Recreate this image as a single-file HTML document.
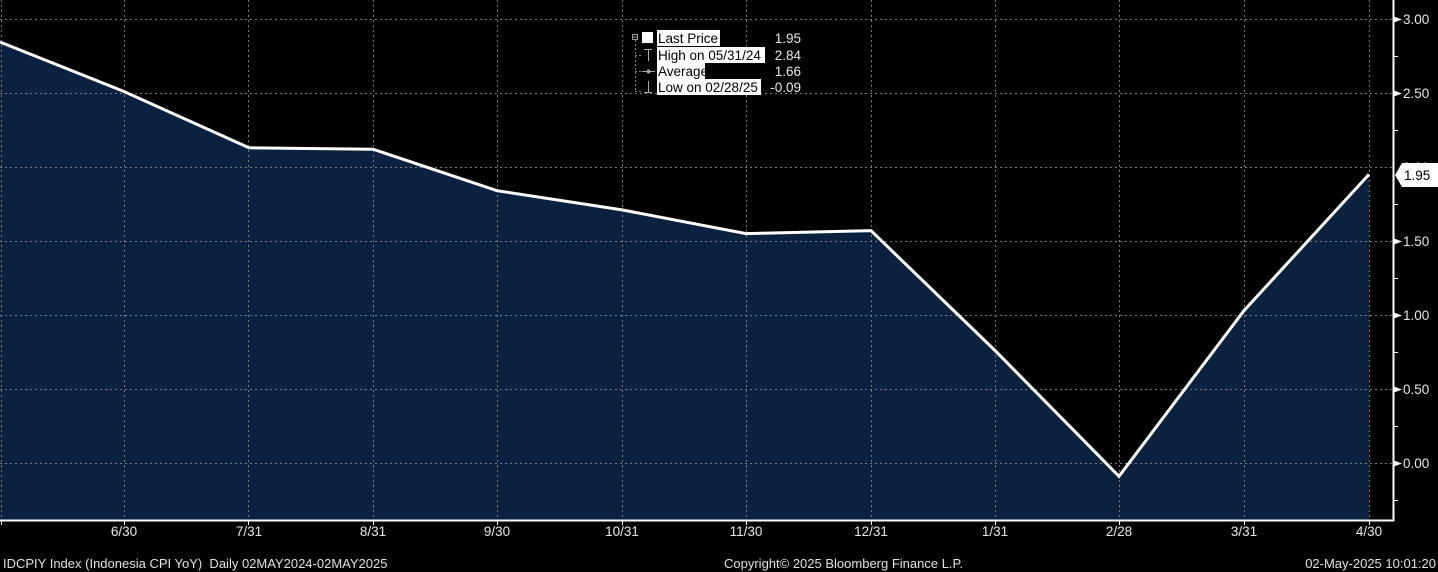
<!DOCTYPE html>
<html><head><meta charset="utf-8"><style>
html,body{margin:0;padding:0;background:#000;}
svg{display:block;}
text{font-family:"Liberation Sans",Tahoma,sans-serif;}
</style></head><body>
<svg width="1438" height="572" viewBox="0 0 1438 572" xmlns="http://www.w3.org/2000/svg">
<rect width="1438" height="572" fill="#000"/>
<!-- fill -->
<polygon fill="#0a2240" points="0,42 124,91.5 249,147.8 373,149.2 497,190.7 622,209.9 746,233.6 871,230.6 995,350.5 1119,476.3 1244,310.6 1369,174.4 1369,520 0,520"/>
<!-- grid -->
<g stroke="#7a7a7a" stroke-width="1" stroke-dasharray="2,3" fill="none">
<line x1="0" y1="19.5" x2="1393" y2="19.5"/>
<line x1="0" y1="93.5" x2="1393" y2="93.5"/>
<line x1="0" y1="167.5" x2="1393" y2="167.5"/>
<line x1="0" y1="241.5" x2="1393" y2="241.5"/>
<line x1="0" y1="315.5" x2="1393" y2="315.5"/>
<line x1="0" y1="389.5" x2="1393" y2="389.5"/>
<line x1="0" y1="463.5" x2="1393" y2="463.5"/>
<line x1="1.5" y1="0" x2="1.5" y2="520"/>
<line x1="124.5" y1="0" x2="124.5" y2="520"/>
<line x1="248.5" y1="0" x2="248.5" y2="520"/>
<line x1="373.5" y1="0" x2="373.5" y2="520"/>
<line x1="497.5" y1="0" x2="497.5" y2="520"/>
<line x1="622.5" y1="0" x2="622.5" y2="520"/>
<line x1="746.5" y1="0" x2="746.5" y2="520"/>
<line x1="871.5" y1="0" x2="871.5" y2="520"/>
<line x1="995.5" y1="0" x2="995.5" y2="520"/>
<line x1="1119.5" y1="0" x2="1119.5" y2="520"/>
<line x1="1244.5" y1="0" x2="1244.5" y2="520"/>
<line x1="1369.5" y1="0" x2="1369.5" y2="520"/>
</g>
<!-- line -->
<polyline fill="none" stroke="#fff" stroke-width="3" stroke-linejoin="miter" points="0,42 124,91.5 249,147.8 373,149.2 497,190.7 622,209.9 746,233.6 871,230.6 995,350.5 1119,476.3 1244,310.6 1369,174.4"/>
<!-- axes -->
<line x1="0" y1="520.5" x2="1394" y2="520.5" stroke="#fff" stroke-width="2"/>
<line x1="1393.5" y1="0" x2="1393.5" y2="521" stroke="#fff" stroke-width="2"/>
<g stroke="#fff" stroke-width="1">
<line x1="1.5" y1="520" x2="1.5" y2="525"/>
<line x1="124.5" y1="520" x2="124.5" y2="525"/>
<line x1="248.5" y1="520" x2="248.5" y2="525"/>
<line x1="373.5" y1="520" x2="373.5" y2="525"/>
<line x1="497.5" y1="520" x2="497.5" y2="525"/>
<line x1="622.5" y1="520" x2="622.5" y2="525"/>
<line x1="746.5" y1="520" x2="746.5" y2="525"/>
<line x1="871.5" y1="520" x2="871.5" y2="525"/>
<line x1="995.5" y1="520" x2="995.5" y2="525"/>
<line x1="1119.5" y1="520" x2="1119.5" y2="525"/>
<line x1="1244.5" y1="520" x2="1244.5" y2="525"/>
<line x1="1369.5" y1="520" x2="1369.5" y2="525"/>
<line x1="1393" y1="56.5" x2="1398" y2="56.5"/>
<line x1="1393" y1="130.5" x2="1398" y2="130.5"/>
<line x1="1393" y1="204.5" x2="1398" y2="204.5"/>
<line x1="1393" y1="278.5" x2="1398" y2="278.5"/>
<line x1="1393" y1="352.5" x2="1398" y2="352.5"/>
<line x1="1393" y1="426.5" x2="1398" y2="426.5"/>
<line x1="1393" y1="500.5" x2="1398" y2="500.5"/>
</g>
<g fill="#fff">
<polygon points="1394,16.5 1402,19.5 1394,22.5"/>
<polygon points="1394,90.5 1402,93.5 1394,96.5"/>
<polygon points="1394,238.5 1402,241.5 1394,244.5"/>
<polygon points="1394,312.5 1402,315.5 1394,318.5"/>
<polygon points="1394,386.5 1402,389.5 1394,392.5"/>
<polygon points="1394,460.5 1402,463.5 1394,466.5"/>
</g>
<g fill="#e8e8e8" font-size="13.5">
<text x="1403" y="24">3.00</text>
<text x="1403" y="98">2.50</text>
<text x="1403" y="172">2.00</text>
<text x="1403" y="246">1.50</text>
<text x="1403" y="320">1.00</text>
<text x="1403" y="394">0.50</text>
<text x="1403" y="468">0.00</text>
</g>
<!-- last price label -->
<polygon fill="#fff" points="1395,175 1402,163 1438,163 1438,187 1402,187"/>
<text x="1404" y="180" font-size="13.5" fill="#000">1.95</text>
<!-- x labels -->
<g fill="#e8e8e8" font-size="13.5" text-anchor="middle">
<text x="124" y="536">6/30</text>
<text x="249" y="536">7/31</text>
<text x="373" y="536">8/31</text>
<text x="497" y="536">9/30</text>
<text x="622" y="536">10/31</text>
<text x="746" y="536">11/30</text>
<text x="871" y="536">12/31</text>
<text x="995" y="536">1/31</text>
<text x="1119" y="536">2/28</text>
<text x="1244" y="536">3/31</text>
<text x="1369" y="536">4/30</text>
</g>
<!-- legend -->
<g>
<rect x="657" y="30" width="63" height="16" fill="#fff"/>
<rect x="720" y="30" width="12" height="16" fill="#000"/>
<rect x="657" y="47" width="108" height="16" fill="#fff"/>
<rect x="657" y="63" width="48" height="16" fill="#fff"/>
<rect x="705" y="63" width="70" height="16" fill="#000"/>
<rect x="657" y="79" width="104" height="16" fill="#fff"/>
<rect x="642" y="32" width="11" height="11" fill="#fff"/>
<rect x="632.5" y="34.5" width="5" height="5" fill="none" stroke="#999" stroke-width="1"/>
<line x1="633" y1="37" x2="637" y2="37" stroke="#999"/>
<line x1="635.5" y1="40" x2="635.5" y2="92" stroke="#888" stroke-dasharray="2,2"/>
<line x1="635" y1="55.5" x2="642" y2="55.5" stroke="#888" stroke-dasharray="2,2"/>
<line x1="635" y1="71.5" x2="642" y2="71.5" stroke="#888" stroke-dasharray="2,2"/>
<line x1="635" y1="91.5" x2="642" y2="91.5" stroke="#888" stroke-dasharray="2,2"/>
<line x1="644" y1="49.5" x2="652" y2="49.5" stroke="#aaa"/>
<line x1="648.5" y1="49" x2="648.5" y2="61" stroke="#aaa"/>
<line x1="642" y1="71.5" x2="655" y2="71.5" stroke="#aaa"/>
<circle cx="648.5" cy="71.5" r="2" fill="#aaa"/>
<line x1="648.5" y1="81" x2="648.5" y2="92" stroke="#aaa"/>
<line x1="644" y1="92.5" x2="652" y2="92.5" stroke="#aaa"/>
<g font-size="13.5" fill="#000">
<text x="658" y="43">Last Price</text>
<text x="658" y="60">High on 05/31/24</text>
<text x="658" y="76">Average</text>
<text x="658" y="92">Low on 02/28/25</text>
</g>
<g font-size="13.5" fill="#e8e8e8" text-anchor="end">
<text x="801" y="43">1.95</text>
<text x="801" y="60">2.84</text>
<text x="801" y="76">1.66</text>
<text x="801" y="92">-0.09</text>
</g>
</g>
<!-- footer -->
<g fill="#e0e0e0" font-size="13">
<text x="3" y="568" xml:space="preserve">IDCPIY Index (Indonesia CPI YoY)  Daily 02MAY2024-02MAY2025</text>
<text x="724" y="568">Copyright© 2025 Bloomberg Finance L.P.</text>
<text x="1436" y="568" text-anchor="end">02-May-2025 10:01:20</text>
</g>
</svg>
</body></html>
